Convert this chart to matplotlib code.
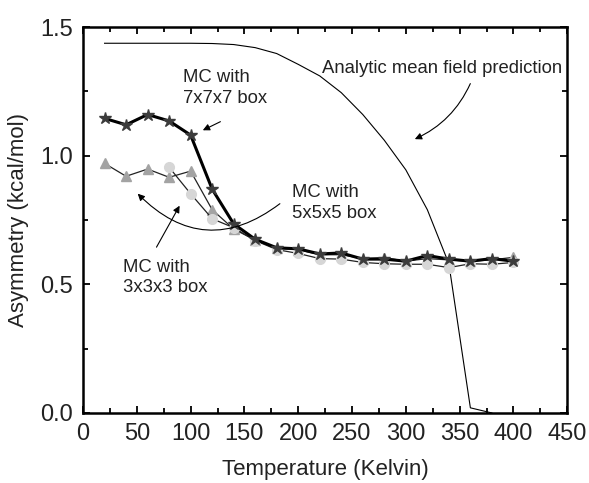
import matplotlib.pyplot as plt
from matplotlib.ticker import MultipleLocator

plt.rcParams['font.family'] = ['Liberation Sans', 'DejaVu Sans']

# Monte Carlo results (kcal/mol) vs temperature (K)
temp_7 = [20, 40, 60, 80, 100, 120, 140, 160, 180, 200, 220, 240, 260, 280, 300, 320, 340, 360, 380, 400]
asym_7 = [1.145, 1.12, 1.16, 1.135, 1.08, 0.87, 0.735, 0.675, 0.642, 0.638, 0.618, 0.622, 0.598, 0.598, 0.59, 0.612, 0.598, 0.59, 0.6, 0.59]

temp_5 = [20, 40, 60, 80, 100, 120, 140, 160, 180, 200, 220, 240, 260, 280, 300, 320, 340, 360, 380, 400]
asym_5 = [0.97, 0.92, 0.948, 0.916, 0.94, 0.79, 0.715, 0.672, 0.64, 0.635, 0.615, 0.615, 0.6, 0.604, 0.59, 0.6, 0.595, 0.59, 0.595, 0.605]

temp_3 = [80, 100, 120, 140, 160, 180, 200, 220, 240, 260, 280, 300, 320, 340, 360, 380, 400]
asym_3 = [0.955, 0.852, 0.755, 0.72, 0.67, 0.635, 0.62, 0.6, 0.598, 0.585, 0.58, 0.578, 0.578, 0.565, 0.58, 0.578, 0.585]

# analytic mean field prediction
temp_mf = [20, 40, 60, 80, 100, 120, 140, 160, 180, 200, 220, 240, 260, 280, 300, 320, 340, 360, 380]
asym_mf = [1.437, 1.437, 1.437, 1.437, 1.437, 1.436, 1.432, 1.42, 1.397, 1.355, 1.31, 1.245, 1.16, 1.06, 0.945, 0.79, 0.58, 0.02, 0.0]

fig = plt.figure(figsize=(5.89, 4.83), dpi=100)
ax = fig.add_axes([0.141, 0.145, 0.822, 0.799])

ax.plot(temp_mf, asym_mf, color='black', lw=0.8)
ax.plot(temp_5, asym_5, color='#222222', lw=0.9, marker='^', ms=7.5,
        mfc='#a3a3a3', mec='#a3a3a3')
ax.plot(temp_3, asym_3, color='#222222', lw=0.9, marker='o', ms=7,
        mfc='#d6d6d6', mec='#d6d6d6')
ax.plot(temp_7, asym_7, color='black', lw=2.2, marker='*', ms=9,
        mfc='#3c3c3c', mec='#3c3c3c')

ax.set_xlim(0, 450)
ax.set_ylim(0, 1.5)
ax.xaxis.set_major_locator(MultipleLocator(50))
ax.xaxis.set_minor_locator(MultipleLocator(25))
ax.yaxis.set_major_locator(MultipleLocator(0.5))
ax.yaxis.set_minor_locator(MultipleLocator(0.25))
ax.yaxis.set_major_formatter(plt.FormatStrFormatter('%.1f'))
ax.tick_params(which='both', direction='in', top=True, right=True,
               labelsize=17, width=1.3, labelcolor='#222222')
ax.tick_params(which='major', length=5, pad=7)
ax.tick_params(which='minor', length=3.5)
for s in ax.spines.values():
    s.set_linewidth(1.8)

ax.set_xlabel('Temperature (Kelvin)', fontsize=16, labelpad=10, color='#222222')
ax.set_ylabel('Asymmetry (kcal/mol)', fontsize=16, labelpad=8, color='#222222')

txt = 13.3
ax.text(222, 1.34, 'Analytic mean field prediction', fontsize=txt, va='center',
        color='#222222')
ax.annotate('', xy=(306, 1.06), xytext=(361, 1.29),
            arrowprops=dict(arrowstyle='-|>', color='black', lw=0.8,
                            connectionstyle='arc3,rad=-0.2'))

ax.text(93, 1.335, 'MC with\n7x7x7 box', fontsize=txt, va='top', linespacing=1.3,
        color='#222222')
ax.annotate('', xy=(109, 1.094), xytext=(130, 1.137),
            arrowprops=dict(arrowstyle='-|>', color='black', lw=0.8))

ax.text(194, 0.89, 'MC with\n5x5x5 box', fontsize=txt, va='top', linespacing=1.3,
        color='#222222')
ax.annotate('', xy=(49, 0.86), xytext=(185, 0.82),
            arrowprops=dict(arrowstyle='-|>', color='black', lw=0.8,
                            connectionstyle='arc3,rad=-0.45'))

ax.text(37, 0.6, 'MC with\n3x3x3 box', fontsize=txt, va='top', linespacing=1.3,
        color='#222222')
ax.annotate('', xy=(91, 0.815), xytext=(67, 0.635),
            arrowprops=dict(arrowstyle='-|>', color='black', lw=0.8))

plt.savefig('out.png', dpi=100)
